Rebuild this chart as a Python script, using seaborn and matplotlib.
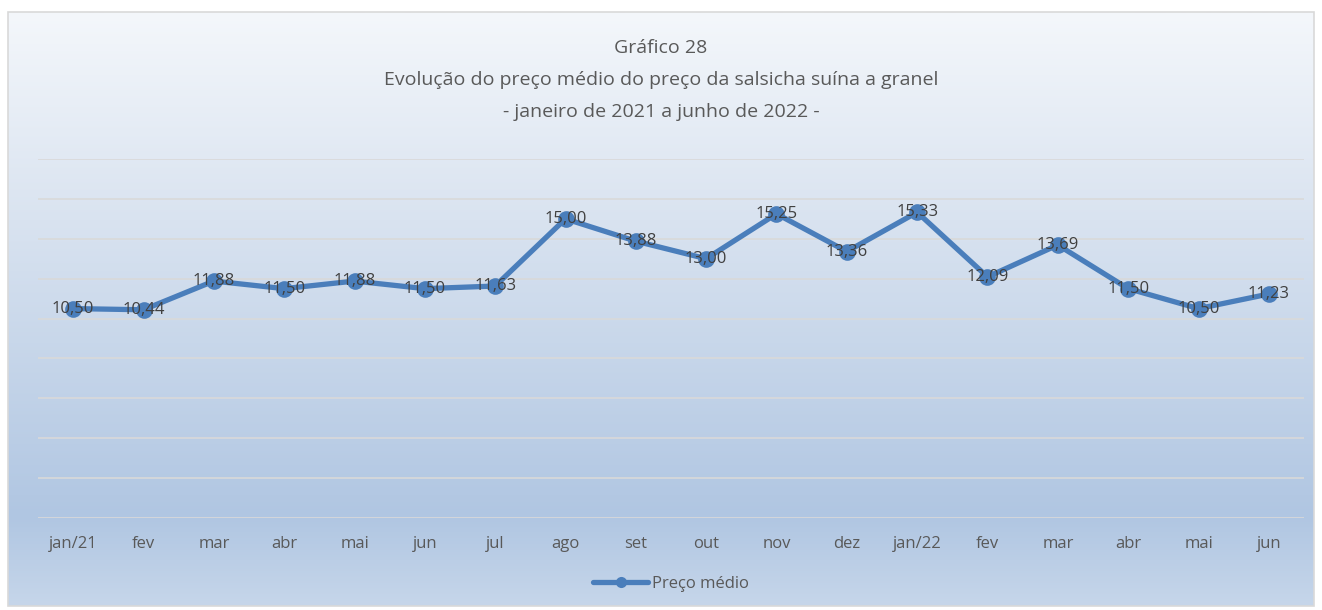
import numpy as np
import pandas as pd
import matplotlib.pyplot as plt
import seaborn as sns
from matplotlib.colors import LinearSegmentedColormap
from matplotlib.patches import Rectangle

# chart data
months = ["jan/21", "fev", "mar", "abr", "mai", "jun", "jul", "ago", "set",
          "out", "nov", "dez", "jan/22", "fev", "mar", "abr", "mai", "jun"]
precos = [10.50, 10.44, 11.88, 11.50, 11.88, 11.50, 11.63, 15.00, 13.88,
          13.00, 15.25, 13.36, 15.33, 12.09, 13.69, 11.50, 10.50, 11.23]
serie = "Preço médio"
titulo = ("Gráfico 28\n"
          "Evolução do preço médio do preço da salsicha suína a granel\n"
          "- janeiro de 2021 a junho de 2022 -")

df = pd.DataFrame({"pos": range(len(months)), "preco": precos})

sns.set_theme(style="white")
plt.rcParams["font.family"] = ["Open Sans", "DejaVu Sans"]

W, H = 1322, 610
fig = plt.figure(figsize=(W / 100, H / 100), dpi=100)
fig.patch.set_facecolor("white")

# gradient background of the chart area
bx0, by0, bx1, by1 = 8, 12, 1314, 606
bg = fig.add_axes([bx0 / W, 1 - by1 / H, (bx1 - bx0) / W, (by1 - by0) / H])
cmap = LinearSegmentedColormap.from_list(
    "excel", [(0.0, "#f4f7fb"), (0.35, "#d9e3f0"), (0.85, "#b0c6e2"), (1.0, "#c6d6ea")])
bg.imshow(np.linspace(0, 1, 256).reshape(-1, 1), aspect="auto", cmap=cmap,
          extent=[0, 1, 0, 1], origin="upper")
bg.set_axis_off()
fig.patches.append(Rectangle((bx0 / W, 1 - by1 / H), (bx1 - bx0) / W, (by1 - by0) / H,
                             transform=fig.transFigure, fill=False,
                             edgecolor="#d9d9d9", linewidth=1.2, zorder=5))

# main plot area
px0, py0, px1, py1 = 38, 159, 1304, 518
ax = fig.add_axes([px0 / W, 1 - py1 / H, (px1 - px0) / W, (py1 - py0) / H])
ax.set_facecolor("none")

sns.lineplot(data=df, x="pos", y="preco", ax=ax, color="#4a7ebb", linewidth=3.8,
             marker="o", markersize=12, markeredgewidth=0, label=serie, zorder=3)

for x, v in zip(df["pos"], precos):
    ax.text(x, v, f"{v:.2f}".replace(".", ","), ha="center", va="center",
            fontsize=12, color="#404040", zorder=4)

ax.set_xlim(-0.5, len(months) - 0.5)
ax.set_ylim(0, 18)
ax.set_yticks(np.arange(0, 19, 2))
ax.yaxis.grid(True, color="#d9d9d9", linewidth=1.2)
ax.set_axisbelow(True)
ax.tick_params(axis="y", left=False, labelleft=False)
ax.set_xticks(df["pos"])
ax.set_xticklabels(months, fontsize=12, color="#595959")
ax.tick_params(axis="x", bottom=False, pad=7)
ax.set_xlabel("")
ax.set_ylabel("")
for s in ax.spines.values():
    s.set_visible(False)

fig.text(0.5, 1 - 80 / H, titulo, ha="center", va="center", fontsize=14,
         color="#595959", linespacing=2.0)

leg = ax.legend(loc="center", bbox_to_anchor=(0.5, (518 - 584) / (518 - 159)),
                frameon=False, fontsize=12, handlelength=3.3, handletextpad=0.2)
for t in leg.get_texts():
    t.set_color("#595959")
for h in leg.legend_handles:
    h.set_markersize(8)

fig.savefig("out.png", dpi=100)
